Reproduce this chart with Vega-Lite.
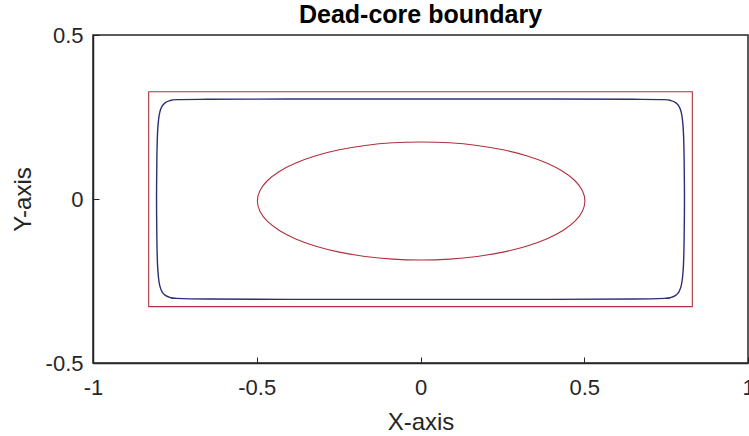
{
  "$schema": "https://vega.github.io/schema/vega-lite/v6.json",
  "width": 655,
  "height": 328,
  "autosize": {"type": "none"},
  "padding": {"left": 93, "top": 35, "right": 1, "bottom": 73},
  "title": {"text": "Dead-core boundary", "font": "Liberation Sans", "fontSize": 25, "fontWeight": "bold", "color": "#000000", "anchor": "middle", "baseline": "alphabetic", "offset": -24},
  "config": {
    "view": {"stroke": "#262626", "strokeWidth": 1.5},
    "axis": {"grid": false, "domainColor": "#262626", "domainWidth": 1.5, "tickColor": "#262626", "tickSize": -6, "labelFont": "Liberation Sans", "labelFontSize": 22, "labelColor": "#262626", "titleFont": "Liberation Sans", "titleFontSize": 24, "titleFontWeight": "normal", "titleColor": "#262626"}
  },
  "datasets": {
    "box": [
      {"o": 1, "x": -0.83, "y": 0.327},
      {"o": 2, "x": 0.83, "y": 0.327},
      {"o": 3, "x": 0.83, "y": -0.328},
      {"o": 4, "x": -0.83, "y": -0.328}
    ],
    "curve": [
      {"o": 1, "x": 0.806, "y": 0},
      {"o": 2, "x": 0.805, "y": 0.12},
      {"o": 3, "x": 0.803, "y": 0.2},
      {"o": 4, "x": 0.8, "y": 0.24},
      {"o": 5, "x": 0.796, "y": 0.265},
      {"o": 6, "x": 0.789, "y": 0.283},
      {"o": 7, "x": 0.779, "y": 0.294},
      {"o": 8, "x": 0.765, "y": 0.3},
      {"o": 9, "x": 0.745, "y": 0.303},
      {"o": 10, "x": 0.65, "y": 0.304},
      {"o": 11, "x": 0.4, "y": 0.305},
      {"o": 12, "x": 0, "y": 0.305},
      {"o": 13, "x": -0.4, "y": 0.305},
      {"o": 14, "x": -0.65, "y": 0.304},
      {"o": 15, "x": -0.745, "y": 0.303},
      {"o": 16, "x": -0.765, "y": 0.3},
      {"o": 17, "x": -0.779, "y": 0.294},
      {"o": 18, "x": -0.789, "y": 0.283},
      {"o": 19, "x": -0.796, "y": 0.265},
      {"o": 20, "x": -0.8, "y": 0.24},
      {"o": 21, "x": -0.803, "y": 0.2},
      {"o": 22, "x": -0.805, "y": 0.12},
      {"o": 23, "x": -0.806, "y": 0},
      {"o": 24, "x": -0.805, "y": -0.12},
      {"o": 25, "x": -0.803, "y": -0.2},
      {"o": 26, "x": -0.8, "y": -0.24},
      {"o": 27, "x": -0.796, "y": -0.265},
      {"o": 28, "x": -0.789, "y": -0.283},
      {"o": 29, "x": -0.779, "y": -0.294},
      {"o": 30, "x": -0.765, "y": -0.3},
      {"o": 31, "x": -0.745, "y": -0.303},
      {"o": 32, "x": -0.65, "y": -0.305},
      {"o": 33, "x": -0.4, "y": -0.306},
      {"o": 34, "x": 0, "y": -0.306},
      {"o": 35, "x": 0.4, "y": -0.306},
      {"o": 36, "x": 0.65, "y": -0.305},
      {"o": 37, "x": 0.745, "y": -0.303},
      {"o": 38, "x": 0.765, "y": -0.3},
      {"o": 39, "x": 0.779, "y": -0.294},
      {"o": 40, "x": 0.789, "y": -0.283},
      {"o": 41, "x": 0.796, "y": -0.265},
      {"o": 42, "x": 0.8, "y": -0.24},
      {"o": 43, "x": 0.803, "y": -0.2},
      {"o": 44, "x": 0.805, "y": -0.12}
    ],
    "ellipse": [
      {"o": 1, "x": 0.502, "y": -0.006},
      {"o": 2, "x": 0.4944, "y": 0.0253},
      {"o": 3, "x": 0.4718, "y": 0.0556},
      {"o": 4, "x": 0.435, "y": 0.084},
      {"o": 5, "x": 0.385, "y": 0.1097},
      {"o": 6, "x": 0.3234, "y": 0.1319},
      {"o": 7, "x": 0.252, "y": 0.1499},
      {"o": 8, "x": 0.173, "y": 0.1631},
      {"o": 9, "x": 0.0888, "y": 0.1713},
      {"o": 10, "x": 0.002, "y": 0.174},
      {"o": 11, "x": -0.0848, "y": 0.1713},
      {"o": 12, "x": -0.169, "y": 0.1631},
      {"o": 13, "x": -0.248, "y": 0.1499},
      {"o": 14, "x": -0.3194, "y": 0.1319},
      {"o": 15, "x": -0.381, "y": 0.1097},
      {"o": 16, "x": -0.431, "y": 0.084},
      {"o": 17, "x": -0.4678, "y": 0.0556},
      {"o": 18, "x": -0.4904, "y": 0.0253},
      {"o": 19, "x": -0.498, "y": -0.006},
      {"o": 20, "x": -0.4904, "y": -0.0373},
      {"o": 21, "x": -0.4678, "y": -0.0676},
      {"o": 22, "x": -0.431, "y": -0.096},
      {"o": 23, "x": -0.381, "y": -0.1217},
      {"o": 24, "x": -0.3194, "y": -0.1439},
      {"o": 25, "x": -0.248, "y": -0.1619},
      {"o": 26, "x": -0.169, "y": -0.1751},
      {"o": 27, "x": -0.0848, "y": -0.1833},
      {"o": 28, "x": 0.002, "y": -0.186},
      {"o": 29, "x": 0.0888, "y": -0.1833},
      {"o": 30, "x": 0.173, "y": -0.1751},
      {"o": 31, "x": 0.252, "y": -0.1619},
      {"o": 32, "x": 0.3234, "y": -0.1439},
      {"o": 33, "x": 0.385, "y": -0.1217},
      {"o": 34, "x": 0.435, "y": -0.096},
      {"o": 35, "x": 0.4718, "y": -0.0676},
      {"o": 36, "x": 0.4944, "y": -0.0373}
    ]
  },
  "encoding": {
    "x": {"field": "x", "type": "quantitative", "scale": {"domain": [-1, 1], "nice": false, "zero": false},
      "axis": {"title": "X-axis", "values": [-1, -0.5, 0, 0.5, 1], "labelExpr": "datum.value + ''", "labelPadding": 20, "titlePadding": 12, "labelFlush": false}},
    "y": {"field": "y", "type": "quantitative", "scale": {"domain": [-0.5, 0.5], "nice": false, "zero": false},
      "axis": {"title": "Y-axis", "values": [-0.5, 0, 0.5], "labelExpr": "datum.value + ''", "labelPadding": 16, "titlePadding": 10, "labelFlush": false}},
    "order": {"field": "o", "type": "quantitative"}
  },
  "layer": [
    {"data": {"name": "box"}, "mark": {"type": "line", "interpolate": "linear-closed", "color": "#b0303d", "strokeWidth": 1.1}},
    {"data": {"name": "ellipse"}, "mark": {"type": "line", "interpolate": "cardinal-closed", "color": "#b0303d", "strokeWidth": 1.1}},
    {"data": {"name": "curve"}, "mark": {"type": "line", "interpolate": "cardinal-closed", "color": "#2e2e78", "strokeWidth": 1.4}}
  ]
}
